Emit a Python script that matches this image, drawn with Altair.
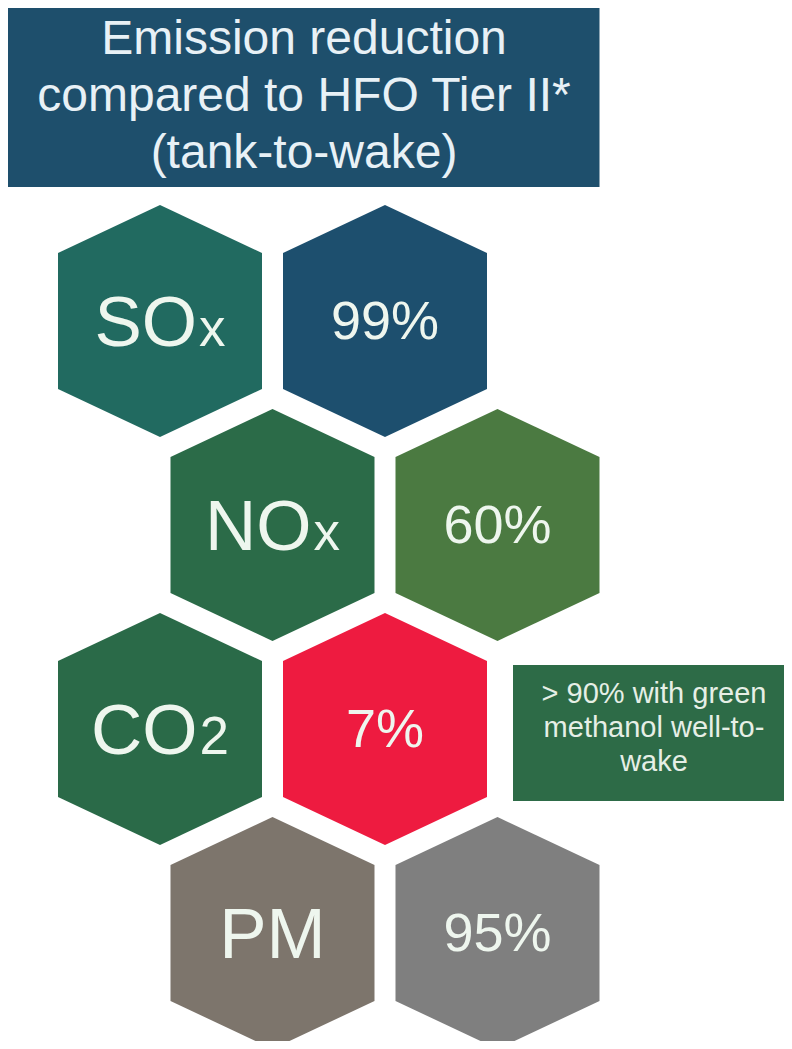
import altair as alt
import pandas as pd

# ---------------- data ----------------
pollutants = ["SO", "NO", "CO", "PM"]
subscripts = ["x", "x", "2", ""]
reductions = ["99%", "60%", "7%", "95%"]
label_colors = ["#216a60", "#2b6b48", "#2a6a48", "#7d756c"]
value_colors = ["#1d4f6e", "#4b7a41", "#ee1b40", "#7f7f7f"]
title_lines = ["Emission reduction", "compared to HFO Tier II*", "(tank-to-wake)"]
note_lines = ["> 90% with green", "methanol well-to-", "wake"]
note_row = 2  # note sits beside the CO2 row

# ---------------- layout ----------------
W, H = 776, 1033           # plot size (page margin 8px)
ORIGIN_X, ORIGIN_Y = 160, 321  # centre of first hexagon (page px)
PX, PY = 112.5, 204.0          # half column pitch, row pitch (px)
MARGIN = 8


def u_of(xpage):
    return (xpage - ORIGIN_X) / PX


def v_of(ypage):
    return (ypage - ORIGIN_Y) / PY


U_MIN, U_MAX = u_of(MARGIN), u_of(MARGIN + W)
V_MIN, V_MAX = v_of(MARGIN), v_of(MARGIN + H)

HEX_HALF_H = 116.0
HEX_HALF_W = 102.0
HEX_HALF_SIDE = 68.0
w_ = HEX_HALF_W / HEX_HALF_H
s_ = HEX_HALF_SIDE / HEX_HALF_H
hex_path = (f"M0,-1 L{w_:.4f},-{s_:.4f} L{w_:.4f},{s_:.4f} L0,1 "
            f"L-{w_:.4f},{s_:.4f} L-{w_:.4f},-{s_:.4f} Z")
hex_size = (2 * HEX_HALF_H) ** 2

FONT = "Liberation Sans"
MAIN_FS, SUB_FS, VAL_FS = 71, 53, 54
TITLE_FS, NOTE_FS = 48, 29
TXT = "#eef6ee"

em = {"S": .667, "O": .778, "N": .722, "C": .722, "P": .667, "M": .833,
      "x": .5, "2": .556}

hex_rows, lab_rows, val_rows = [], [], []
for r, (m, sb, val, lc, vc) in enumerate(zip(pollutants, subscripts, reductions,
                                              label_colors, value_colors)):
    ul = r % 2
    uv = ul + 2
    hex_rows.append({"u": ul, "v": r, "c": lc})
    hex_rows.append({"u": uv, "v": r, "c": vc})
    mw = sum(em[ch] for ch in m) * MAIN_FS
    sw = sum(em[ch] for ch in sb) * SUB_FS
    total = mw + ((2 + sw) if sb else 0)
    split_px = -total / 2 + mw
    lab_rows.append({"u": ul + split_px / PX, "us": ul + (split_px + 2) / PX,
                     "v": r, "main": m, "sub": sb})
    val_rows.append({"u": uv, "v": r, "t": val})

hex_df = pd.DataFrame(hex_rows)
lab_df = pd.DataFrame(lab_rows)
val_df = pd.DataFrame(val_rows)

title_box = pd.DataFrame([{"u1": U_MIN, "u2": 3 + HEX_HALF_W / PX,
                           "v1": v_of(5), "v2": -HEX_HALF_H / PY - 18 / PY}])
title_df = pd.DataFrame({"t": title_lines,
                         "u": [u_of(304)] * 3,
                         "v": [v_of(54 + 57 * i) for i in range(3)]})

note_box = pd.DataFrame([{"u1": u_of(513), "u2": U_MAX + 1,
                          "v1": note_row - 64 / PY, "v2": note_row + 64 / PY + 8 / PY}])
note_df = pd.DataFrame({"t": note_lines,
                        "u": [u_of(654)] * 3,
                        "v": [v_of(703 + 34 * i) for i in range(3)]})

xs = alt.Scale(domain=[U_MIN, U_MAX], nice=False, zero=False)
ys = alt.Scale(domain=[V_MIN, V_MAX], nice=False, zero=False, reverse=True)


def X(f):
    return alt.X(f, type="quantitative", scale=xs, axis=None)


def Y(f):
    return alt.Y(f, type="quantitative", scale=ys, axis=None)


title_rect = alt.Chart(title_box).mark_rect(color="#1e4f6c").encode(
    x=X("u1"), x2="u2", y=Y("v1"), y2="v2")
title_text = alt.Chart(title_df).mark_text(
    font=FONT, fontSize=TITLE_FS, color="#e8f1f6", align="center",
    baseline="alphabetic").encode(x=X("u"), y=Y("v"), text="t:N")

hexes = alt.Chart(hex_df).mark_point(
    shape=hex_path, size=hex_size, filled=True, opacity=1, strokeWidth=0).encode(
    x=X("u"), y=Y("v"), color=alt.Color("c:N", scale=None))

lab_main = alt.Chart(lab_df).mark_text(
    font=FONT, fontSize=MAIN_FS, color=TXT, align="right", baseline="alphabetic",
    dy=25).encode(x=X("u"), y=Y("v"), text="main:N")
lab_sub = alt.Chart(lab_df).mark_text(
    font=FONT, fontSize=SUB_FS, color=TXT, align="left", baseline="alphabetic",
    dy=25).encode(x=X("us"), y=Y("v"), text="sub:N")
val_text = alt.Chart(val_df).mark_text(
    font=FONT, fontSize=VAL_FS, color=TXT, align="center", baseline="alphabetic",
    dy=18).encode(x=X("u"), y=Y("v"), text="t:N")

note_rect = alt.Chart(note_box).mark_rect(color="#2d6b47").encode(
    x=X("u1"), x2="u2", y=Y("v1"), y2="v2")
note_text = alt.Chart(note_df).mark_text(
    font=FONT, fontSize=NOTE_FS, color="#e6efe6", align="center",
    baseline="alphabetic").encode(x=X("u"), y=Y("v"), text="t:N")

chart = alt.layer(title_rect, title_text, hexes, lab_main, lab_sub, val_text,
                  note_rect, note_text).properties(
    width=W, height=H, padding=0,
    autosize=alt.AutoSizeParams(type="none"),
    background="white",
).configure_view(stroke=None)

chart.save("out.html", embed_options={"renderer": "svg", "actions": False})
